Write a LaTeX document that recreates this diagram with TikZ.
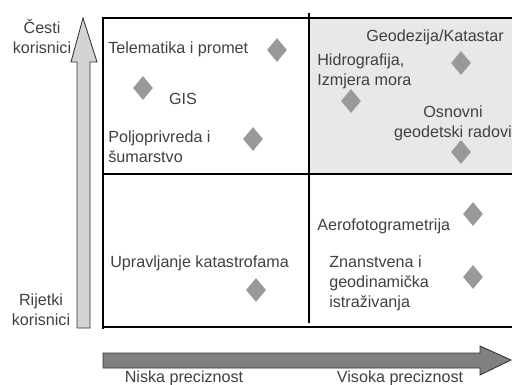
\documentclass[tikz,border=0pt]{standalone}
\usepackage{fontspec}
\setmainfont{Liberation Sans}
\usepackage{xcolor}
\usetikzlibrary{shapes.geometric}

\definecolor{markgray}{HTML}{999999}
\definecolor{shadegray}{HTML}{E8E8E8}
\definecolor{upgray}{HTML}{D4D4D4}
\definecolor{rightgray}{HTML}{808080}
\definecolor{textgray}{HTML}{404040}

\tikzset{
  markpoint/.style={diamond, fill=markgray, minimum width=14pt, minimum height=16.8pt, inner sep=0pt},
  labeltext/.style={text=textgray, inner sep=0pt, font=\fontsize{11.3}{14}\selectfont},
}

\begin{document}
\begin{tikzpicture}[x=0.7pt,y=-0.7pt]
                \useasboundingbox (0,0) rectangle (512,385);
                % shaded quadrant
                \fill[shadegray] (309,18) rectangle (512,174);
                % grid
                \draw[line width=0.8pt] (103,329) -- (103,18) -- (512,18);
                \draw[line width=0.8pt] (103,174) -- (512,174);
                \draw[line width=0.8pt] (103,327) -- (512,327);
                \draw[line width=0.8pt] (309,13) -- (309,323);
                % axes
                \draw[fill=upgray, draw=black!80, line width=0.6pt] (77,328) -- (77,62) -- (71,62) -- (83,18) -- (97,62) -- (90,62) -- (90,328) -- cycle;
                \draw[fill=rightgray, draw=black!80, line width=0.6pt] (103,353) -- (480,353) -- (480,346) -- (511,360) -- (480,375) -- (480,368) -- (103,368) -- cycle;
                \node[labeltext, align=center] (cesti) at (42,37) {Česti\\korisnici};
                \node[labeltext, align=center] (rijetki) at (41,310) {Rijetki\\korisnici};
                \node[labeltext] (niska) at (184,378) {Niska preciznost};
                \node[labeltext] (visoka) at (400,378) {Visoka preciznost};
                % top left
                \node[labeltext, anchor=west] (telematika) at (108,49) {Telematika i promet};
                \node[markpoint] (dtelematika) at (277,50) {};
                \node[markpoint] (dgis) at (143,88) {};
                \node[labeltext] (gis) at (183,99) {GIS};
                \node[labeltext, anchor=west, align=left] (poljo) at (108,147) {Poljoprivreda i\\šumarstvo};
                \node[markpoint] (dpoljo) at (253,139) {};
                % top right
                \node[labeltext] (geodezija) at (435,37) {Geodezija/Katastar};
                \node[markpoint] (dgeodezija) at (461,63) {};
                \node[labeltext, anchor=west, align=left] (hidro) at (317,71) {Hidrografija,\\Izmjera mora};
                \node[markpoint] (dhidro) at (351,101) {};
                \node[labeltext, align=center] (osnovni) at (453,123) {Osnovni\\geodetski radovi};
                \node[markpoint] (dosnovni) at (461,152) {};
                % bottom left
                \node[labeltext, anchor=west] (upravljanje) at (110,263) {Upravljanje katastrofama};
                \node[markpoint] (dupravljanje) at (256,290) {};
                % bottom right
                \node[labeltext, anchor=west] (aero) at (317,226) {Aerofotogrametrija};
                \node[markpoint] (daero) at (473,214) {};
                \node[labeltext, anchor=west, align=left] (znan) at (329,283) {Znanstvena i\\geodinamička\\istraživanja};
                \node[markpoint] (dznan) at (473,277) {};
            \end{tikzpicture}
\end{document}
